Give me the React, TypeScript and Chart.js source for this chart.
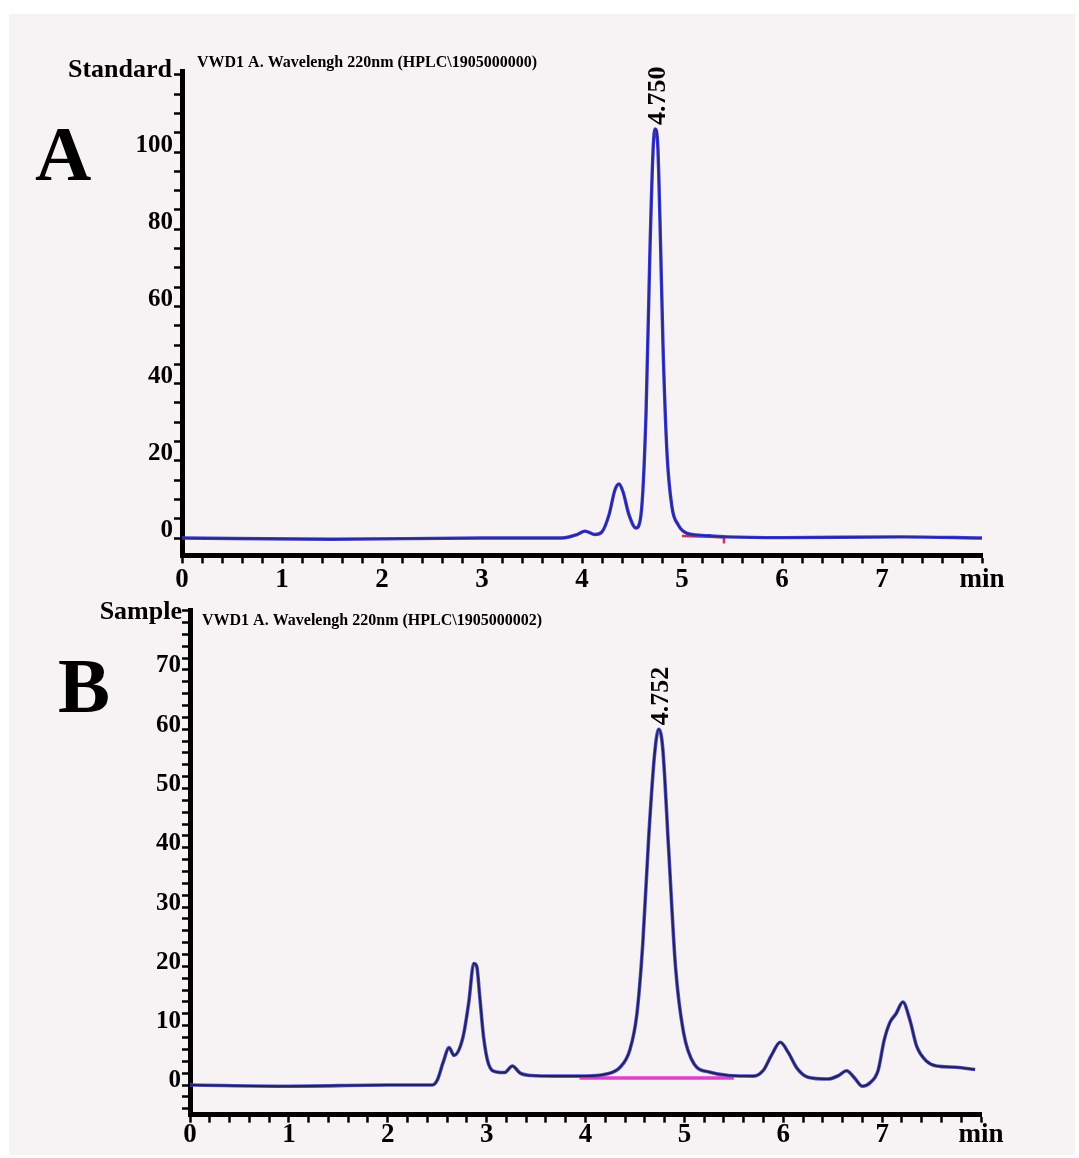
import React, { useEffect, useRef } from "react";
import { Chart, registerables } from "chart.js";

Chart.register(...registerables);

const FONT = '"Liberation Serif", "Times New Roman", serif';
const PAGE_W = 1079;
const PAGE_H = 1158;
const PAGE_BG = "#f7f3f5";

// ---------- Panel A (Standard) ----------
const timesA = [0, 1.5, 3.0, 3.8, 3.95, 4.03, 4.13, 4.2, 4.27, 4.33, 4.37, 4.41, 4.47, 4.54, 4.59, 4.64, 4.68, 4.71, 4.73, 4.755, 4.78, 4.81, 4.85, 4.9, 4.96, 5.05, 5.2, 5.45, 6.0, 7.2, 8.0];
const signalA = [0, -0.3, 0, 0, 0.9, 1.8, 0.9, 1.6, 6, 12.5, 14, 12, 6, 2.6, 6, 32, 75, 100, 106, 103, 82, 50, 22, 8, 3.5, 1.2, 0.7, 0.3, 0.1, 0.3, 0];
const baseTimesA = [5.0, 5.42, 5.42];
const baseValuesA = [0.5, 0.2, -1.4];
const yLabelsA = [0, 20, 40, 60, 80, 100];
const peakA = { time: 4.75, height: 106, label: "4.750" };
const titleA = "VWD1 A. Wavelengh 220nm (HPLC\\1905000000)";

// ---------- Panel B (Sample) ----------
const timesB = [0, 1.0, 2.0, 2.45, 2.5, 2.56, 2.62, 2.67, 2.76, 2.82, 2.87, 2.9, 2.93, 2.97, 3.02, 3.1, 3.18, 3.26, 3.34, 3.45, 3.7, 4.0, 4.2, 4.35, 4.45, 4.52, 4.58, 4.64, 4.7, 4.74, 4.78, 4.84, 4.91, 4.99, 5.1, 5.25, 5.45, 5.7, 5.8, 5.88, 5.97, 6.05, 6.14, 6.25, 6.45, 6.56, 6.64, 6.72, 6.8, 6.88, 6.96, 7.02, 7.08, 7.14, 7.21, 7.28, 7.35, 7.45, 7.55, 7.75, 7.94];
const signalB = [0, -0.2, 0, 0, 0.8, 3.8, 6.3, 5.0, 8, 14, 20.5, 20, 15, 8, 3.5, 2.2, 2.1, 3.2, 2.0, 1.6, 1.5, 1.5, 1.8, 3.0, 6, 12, 24, 42, 56, 60, 57, 40, 20, 9, 3.5, 2.2, 1.6, 1.5, 2.5, 5.0, 7.2, 5.5, 2.8, 1.3, 1.0, 1.6, 2.4, 1.2, -0.2, 0.4, 2.5, 7.5, 10.6, 12, 14, 11, 6.5, 4, 3.2, 3.0, 2.6];
const baseTimesB = [3.94, 5.5];
const baseValuesB = [1.2, 1.2];
const yLabelsB = [0, 10, 20, 30, 40, 50, 60, 70];
const peakB = { time: 4.752, height: 60, label: "4.752" };
const titleB = "VWD1 A. Wavelengh 220nm (HPLC\\1905000002)";

// shared x-axis
const xTickLabels = ["0", "1", "2", "3", "4", "5", "6", "7", "min"];

type TextItem = { text: string; x: number; y: number; size: number; align: CanvasTextAlign };

type PanelSpec = {
  times: number[];
  signal: number[];
  baseTimes: number[];
  baseValues: number[];
  baseColor: string;
  baseWidth: number;
  haloColor: string;
  haloWidth: number;
  coreColor: string;
  coreWidth: number;
  xMax: number;
  xStep: number;
  xLabelPad: number;
  yMin: number;
  yMax: number;
  yStep: number;
  yLabels: number[];
  yLabelOffset: number;
  area: { left: number; right: number; top: number; bottom: number };
  canvasTop: number;
  canvasHeight: number;
  xAxisH: number;
  peak: { time: number; height: number; label: string };
  texts: TextItem[];
};

const Y_AXIS_W = 70;

const panelA: PanelSpec = {
  times: timesA,
  signal: signalA,
  baseTimes: baseTimesA,
  baseValues: baseValuesA,
  baseColor: "#c8305e",
  baseWidth: 2.5,
  haloColor: "#3a3ad6",
  haloWidth: 3.4,
  coreColor: "#26267e",
  coreWidth: 1.3,
  xMax: 8,
  xStep: 0.2,
  xLabelPad: 0,
  yMin: -4.5,
  yMax: 121,
  yStep: 5,
  yLabels: yLabelsA,
  yLabelOffset: -7,
  area: { left: 182, right: 982, top: 71, bottom: 555.4 },
  canvasTop: 0,
  canvasHeight: 600,
  xAxisH: 44.6,
  peak: peakA,
  texts: [
    { text: "A", x: 35, y: 180, size: 78, align: "left" },
    { text: "Standard", x: 172, y: 77, size: 26, align: "right" },
    { text: titleA, x: 197, y: 67, size: 16, align: "left" },
  ],
};

const panelB: PanelSpec = {
  times: timesB,
  signal: signalB,
  baseTimes: baseTimesB,
  baseValues: baseValuesB,
  baseColor: "#e040cc",
  baseWidth: 3.5,
  haloColor: "#5656d8",
  haloWidth: 3.6,
  coreColor: "#24234f",
  coreWidth: 2,
  xMax: 8,
  xStep: 0.2,
  xLabelPad: -4,
  yMin: -5,
  yMax: 80,
  yStep: 2,
  yLabels: yLabelsB,
  yLabelOffset: -4,
  area: { left: 190, right: 981, top: 610.6, bottom: 1114.65 },
  canvasTop: 590,
  canvasHeight: 568,
  xAxisH: 40,
  peak: peakB,
  texts: [
    { text: "B", x: 58, y: 712, size: 78, align: "left" },
    { text: "Sample", x: 182, y: 619, size: 26, align: "right" },
    { text: titleB, x: 202, y: 625, size: 16, align: "left" },
  ],
};

// tick values at every multiple of `step` inside [min, max]
function stepTicks(min: number, max: number, step: number) {
  const out: { value: number }[] = [];
  const first = Math.ceil(min / step - 1e-9);
  const last = Math.floor(max / step + 1e-9);
  for (let k = first; k <= last; k++) out.push({ value: +(k * step).toFixed(6) });
  return out;
}

function buildConfig(p: PanelSpec): any {
  const toPts = (xs: number[], ys: number[]) => xs.map((x, i) => ({ x, y: ys[i] }));
  const trace = toPts(p.times, p.signal);

  const annotations = {
    id: "annotations",
    afterDraw(chart: any) {
      const ctx = chart.ctx;
      ctx.save();
      ctx.fillStyle = "#000";
      for (const t of p.texts) {
        ctx.font = `bold ${t.size}px ${FONT}`;
        ctx.textAlign = t.align;
        ctx.textBaseline = "alphabetic";
        ctx.fillText(t.text, t.x, t.y - p.canvasTop);
      }
      const px = chart.scales.x.getPixelForValue(p.peak.time);
      const py = chart.scales.y.getPixelForValue(p.peak.height);
      ctx.translate(px, py - 4);
      ctx.rotate(-Math.PI / 2);
      ctx.font = `bold 26px ${FONT}`;
      ctx.textAlign = "left";
      ctx.textBaseline = "middle";
      ctx.fillText(p.peak.label, 0, 1);
      ctx.restore();
    },
  };

  const axisFont = (size: number) => ({ family: FONT, size, weight: "bold" as const });

  return {
    type: "line",
    data: {
      datasets: [
        {
          data: trace,
          borderColor: p.coreColor,
          borderWidth: p.coreWidth,
          pointRadius: 0,
          cubicInterpolationMode: "monotone",
          order: 0,
        },
        {
          data: trace,
          borderColor: p.haloColor,
          borderWidth: p.haloWidth,
          pointRadius: 0,
          cubicInterpolationMode: "monotone",
          order: 1,
        },
        {
          data: toPts(p.baseTimes, p.baseValues),
          borderColor: p.baseColor,
          borderWidth: p.baseWidth,
          pointRadius: 0,
          tension: 0,
          order: 2,
        },
      ],
    },
    options: {
      animation: false,
      responsive: false,
      maintainAspectRatio: false,
      devicePixelRatio: 1,
      layout: {
        padding: {
          left: p.area.left - Y_AXIS_W,
          right: PAGE_W - p.area.right,
          top: p.area.top - p.canvasTop,
          bottom: p.canvasTop + p.canvasHeight - p.area.bottom - p.xAxisH,
        },
      },
      plugins: {
        legend: { display: false },
        tooltip: { enabled: false },
        title: { display: false },
      },
      scales: {
        x: {
          type: "linear",
          min: 0,
          max: p.xMax,
          afterFit: (s: any) => {
            s.height = p.xAxisH;
            s.paddingLeft = 0;
            s.paddingRight = 0;
          },
          afterBuildTicks: (s: any) => {
            s.ticks = stepTicks(0, p.xMax, p.xStep);
          },
          ticks: {
            autoSkip: false,
            maxRotation: 0,
            minRotation: 0,
            padding: p.xLabelPad,
            color: "#000",
            font: axisFont(27),
            callback: (v: number) => {
              const r = Math.round(v);
              return Math.abs(v - r) < 1e-6 ? xTickLabels[r] ?? "" : "";
            },
          },
          grid: {
            drawOnChartArea: false,
            drawTicks: true,
            tickLength: 8,
            tickWidth: 2.5,
            tickColor: "#000",
          },
          border: { display: true, width: 5, color: "#000" },
        },
        y: {
          type: "linear",
          min: p.yMin,
          max: p.yMax,
          afterFit: (s: any) => {
            s.width = Y_AXIS_W;
            s.paddingTop = 0;
            s.paddingBottom = 0;
          },
          afterBuildTicks: (s: any) => {
            s.ticks = stepTicks(p.yMin, p.yMax, p.yStep);
          },
          ticks: {
            autoSkip: false,
            padding: 1,
            labelOffset: p.yLabelOffset,
            color: "#000",
            font: axisFont(25),
            callback: (v: number) => {
              const r = Math.round(v);
              return Math.abs(v - r) < 1e-6 && p.yLabels.includes(r) ? String(r) : "";
            },
          },
          grid: {
            drawOnChartArea: false,
            drawTicks: true,
            tickLength: 8,
            tickWidth: 2.5,
            tickColor: "#000",
          },
          border: { display: true, width: 5, color: "#000" },
        },
      },
    },
    plugins: [annotations],
  };
}

function Panel({ spec }: { spec: PanelSpec }) {
  const ref = useRef<HTMLCanvasElement | null>(null);
  useEffect(() => {
    if (!ref.current) return;
    const chart = new Chart(ref.current, buildConfig(spec));
    return () => chart.destroy();
  }, [spec]);
  return (
    <canvas
      ref={ref}
      width={PAGE_W}
      height={spec.canvasHeight}
      style={{
        position: "absolute",
        left: 0,
        top: spec.canvasTop,
        width: PAGE_W,
        height: spec.canvasHeight,
      }}
    />
  );
}

export default function App() {
  useEffect(() => {
    document.body.style.margin = "0";
  }, []);
  return (
    <div
      style={{
        position: "relative",
        width: PAGE_W,
        height: PAGE_H,
        background: "#ffffff",
        overflow: "hidden",
      }}
    >
      <div
        style={{
          position: "absolute",
          left: 9,
          top: 14,
          width: PAGE_W - 9 - 4,
          height: PAGE_H - 14 - 3,
          background: PAGE_BG,
        }}
      />
      <Panel spec={panelA} />
      <Panel spec={panelB} />
    </div>
  );
}
